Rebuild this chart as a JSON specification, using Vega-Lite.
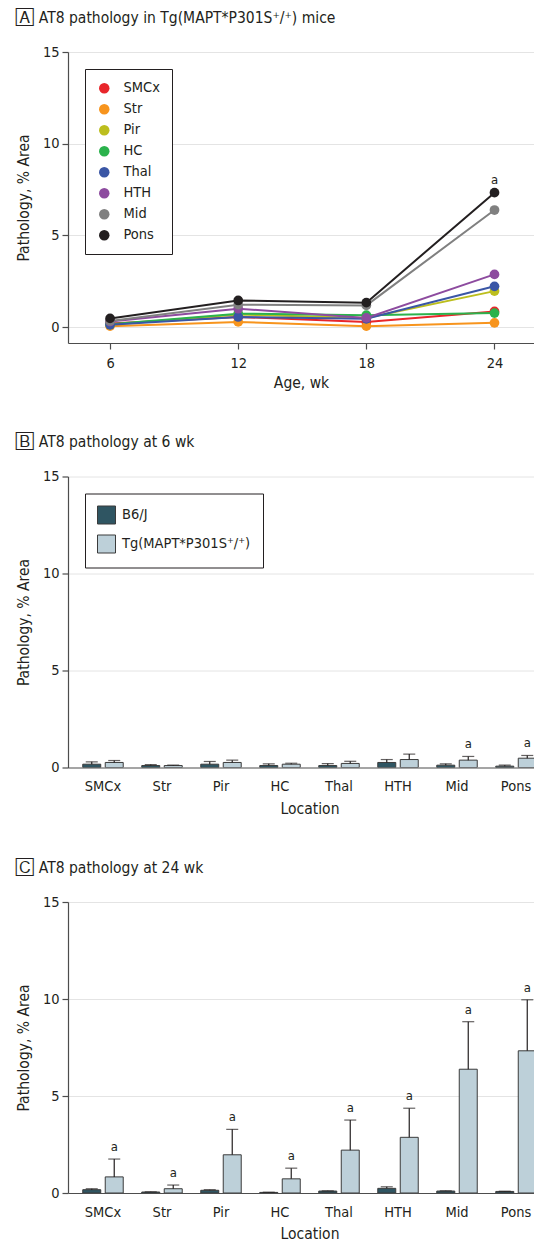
{
  "$schema": "https://vega.github.io/schema/vega-lite/v6.json",
  "padding": {"left": 16, "top": 10, "right": 0, "bottom": 0},
  "spacing": 43.5,
  "datasets": {
    "lines": [
      {"age": 6, "region": "SMCx", "value": 0.2, "sig": ""},
      {"age": 12, "region": "SMCx", "value": 0.55, "sig": ""},
      {"age": 18, "region": "SMCx", "value": 0.27, "sig": ""},
      {"age": 24, "region": "SMCx", "value": 0.85, "sig": ""},
      {"age": 6, "region": "Str", "value": 0.05, "sig": ""},
      {"age": 12, "region": "Str", "value": 0.28, "sig": ""},
      {"age": 18, "region": "Str", "value": 0.05, "sig": ""},
      {"age": 24, "region": "Str", "value": 0.23, "sig": ""},
      {"age": 6, "region": "Pir", "value": 0.12, "sig": ""},
      {"age": 12, "region": "Pir", "value": 0.68, "sig": ""},
      {"age": 18, "region": "Pir", "value": 0.5, "sig": ""},
      {"age": 24, "region": "Pir", "value": 1.96, "sig": ""},
      {"age": 6, "region": "HC", "value": 0.15, "sig": ""},
      {"age": 12, "region": "HC", "value": 0.73, "sig": ""},
      {"age": 18, "region": "HC", "value": 0.65, "sig": ""},
      {"age": 24, "region": "HC", "value": 0.76, "sig": ""},
      {"age": 6, "region": "Thal", "value": 0.12, "sig": ""},
      {"age": 12, "region": "Thal", "value": 0.55, "sig": ""},
      {"age": 18, "region": "Thal", "value": 0.45, "sig": ""},
      {"age": 24, "region": "Thal", "value": 2.22, "sig": ""},
      {"age": 6, "region": "HTH", "value": 0.3, "sig": ""},
      {"age": 12, "region": "HTH", "value": 1.0, "sig": ""},
      {"age": 18, "region": "HTH", "value": 0.5, "sig": ""},
      {"age": 24, "region": "HTH", "value": 2.87, "sig": ""},
      {"age": 6, "region": "Mid", "value": 0.33, "sig": ""},
      {"age": 12, "region": "Mid", "value": 1.22, "sig": ""},
      {"age": 18, "region": "Mid", "value": 1.18, "sig": ""},
      {"age": 24, "region": "Mid", "value": 6.38, "sig": ""},
      {"age": 6, "region": "Pons", "value": 0.47, "sig": ""},
      {"age": 12, "region": "Pons", "value": 1.45, "sig": ""},
      {"age": 18, "region": "Pons", "value": 1.33, "sig": ""},
      {"age": 24, "region": "Pons", "value": 7.33, "sig": "a"}
    ],
    "bars6": [
      {"loc": "SMCx", "strain": "B6/J", "mean": 0.17, "upper": 0.29, "sig": ""},
      {"loc": "Str", "strain": "B6/J", "mean": 0.1, "upper": 0.15, "sig": ""},
      {"loc": "Pir", "strain": "B6/J", "mean": 0.17, "upper": 0.31, "sig": ""},
      {"loc": "HC", "strain": "B6/J", "mean": 0.1, "upper": 0.19, "sig": ""},
      {"loc": "Thal", "strain": "B6/J", "mean": 0.1, "upper": 0.2, "sig": ""},
      {"loc": "HTH", "strain": "B6/J", "mean": 0.26, "upper": 0.41, "sig": ""},
      {"loc": "Mid", "strain": "B6/J", "mean": 0.12, "upper": 0.19, "sig": ""},
      {"loc": "Pons", "strain": "B6/J", "mean": 0.07, "upper": 0.12, "sig": ""},
      {"loc": "SMCx", "strain": "Tg(MAPT*P301S⁺/⁺)", "mean": 0.26, "upper": 0.36, "sig": ""},
      {"loc": "Str", "strain": "Tg(MAPT*P301S⁺/⁺)", "mean": 0.1, "upper": 0.13, "sig": ""},
      {"loc": "Pir", "strain": "Tg(MAPT*P301S⁺/⁺)", "mean": 0.26, "upper": 0.38, "sig": ""},
      {"loc": "HC", "strain": "Tg(MAPT*P301S⁺/⁺)", "mean": 0.17, "upper": 0.22, "sig": ""},
      {"loc": "Thal", "strain": "Tg(MAPT*P301S⁺/⁺)", "mean": 0.21, "upper": 0.32, "sig": ""},
      {"loc": "HTH", "strain": "Tg(MAPT*P301S⁺/⁺)", "mean": 0.41, "upper": 0.69, "sig": ""},
      {"loc": "Mid", "strain": "Tg(MAPT*P301S⁺/⁺)", "mean": 0.38, "upper": 0.57, "sig": "a"},
      {"loc": "Pons", "strain": "Tg(MAPT*P301S⁺/⁺)", "mean": 0.48, "upper": 0.62, "sig": "a"}
    ],
    "bars24": [
      {"loc": "SMCx", "strain": "B6/J", "mean": 0.17, "upper": 0.22, "sig": ""},
      {"loc": "Str", "strain": "B6/J", "mean": 0.05, "upper": 0.06, "sig": ""},
      {"loc": "Pir", "strain": "B6/J", "mean": 0.14, "upper": 0.17, "sig": ""},
      {"loc": "HC", "strain": "B6/J", "mean": 0.03, "upper": 0.04, "sig": ""},
      {"loc": "Thal", "strain": "B6/J", "mean": 0.1, "upper": 0.11, "sig": ""},
      {"loc": "HTH", "strain": "B6/J", "mean": 0.24, "upper": 0.32, "sig": ""},
      {"loc": "Mid", "strain": "B6/J", "mean": 0.1, "upper": 0.11, "sig": ""},
      {"loc": "Pons", "strain": "B6/J", "mean": 0.08, "upper": 0.09, "sig": ""},
      {"loc": "SMCx", "strain": "Tg(MAPT*P301S⁺/⁺)", "mean": 0.83, "upper": 1.75, "sig": "a"},
      {"loc": "Str", "strain": "Tg(MAPT*P301S⁺/⁺)", "mean": 0.22, "upper": 0.41, "sig": "a"},
      {"loc": "Pir", "strain": "Tg(MAPT*P301S⁺/⁺)", "mean": 1.97, "upper": 3.28, "sig": "a"},
      {"loc": "HC", "strain": "Tg(MAPT*P301S⁺/⁺)", "mean": 0.73, "upper": 1.28, "sig": "a"},
      {"loc": "Thal", "strain": "Tg(MAPT*P301S⁺/⁺)", "mean": 2.21, "upper": 3.76, "sig": "a"},
      {"loc": "HTH", "strain": "Tg(MAPT*P301S⁺/⁺)", "mean": 2.87, "upper": 4.37, "sig": "a"},
      {"loc": "Mid", "strain": "Tg(MAPT*P301S⁺/⁺)", "mean": 6.38, "upper": 8.83, "sig": "a"},
      {"loc": "Pons", "strain": "Tg(MAPT*P301S⁺/⁺)", "mean": 7.33, "upper": 9.96, "sig": "a"}
    ]
  },
  "vconcat": [
    {
      "width": 466,
      "height": 291,
      "data": {"name": "lines"},
      "title": {"text": "🄰 AT8 pathology in Tg(MAPT*P301S⁺/⁺) mice"},
      "encoding": {
        "x": {"field": "age", "type": "quantitative",
          "scale": {"domain": [4.03, 25.85], "nice": false, "zero": false},
          "axis": {"values": [6, 12, 18, 24], "grid": false, "title": "Age, wk", "tickSize": 6, "labelPadding": 7, "titlePadding": 6}},
        "y": {"field": "value", "type": "quantitative",
          "scale": {"domain": [-0.87, 15], "nice": false, "zero": false},
          "axis": {"values": [0, 5, 10, 15], "grid": true, "title": "Pathology, % Area", "tickSize": 6, "labelPadding": 3, "titlePadding": 11}}
      },
      "layer": [
        {"mark": {"type": "line", "strokeWidth": 2},
          "encoding": {"stroke": {"field": "region", "type": "nominal", "legend": null,
            "scale": {"domain": ["SMCx", "Str", "Pir", "HC", "Thal", "HTH", "Mid", "Pons"],
              "range": ["#e8262b", "#f7941d", "#bcbe1e", "#2bb24c", "#3a56a5", "#8d4b9f", "#808080", "#231f20"]}}}},
        {"mark": {"type": "point", "filled": true, "size": 95, "opacity": 1},
          "encoding": {"color": {"field": "region", "type": "nominal",
            "sort": ["SMCx", "Str", "Pir", "HC", "Thal", "HTH", "Mid", "Pons"],
            "scale": {"domain": ["SMCx", "Str", "Pir", "HC", "Thal", "HTH", "Mid", "Pons"],
              "range": ["#e8262b", "#f7941d", "#bcbe1e", "#2bb24c", "#3a56a5", "#8d4b9f", "#808080", "#231f20"]},
            "legend": {"title": null, "orient": "top-left", "offset": 17, "symbolType": "circle", "symbolSize": 110,
              "strokeColor": "#231f20", "padding": 12, "rowPadding": 6, "labelOffset": 12, "labelFontSize": 14.5, "symbolStrokeWidth": 0, "fillColor": "white"}}}},
        {"mark": {"type": "text", "dy": -13, "fontSize": 13, "color": "#231f20"},
          "encoding": {"text": {"field": "sig"}}}
      ]
    },
    {
      "width": 466,
      "height": 291,
      "data": {"name": "bars6"},
      "title": {"text": "🄱 AT8 pathology at 6 wk"},
      "encoding": {
        "x": {"field": "loc", "type": "nominal", "sort": ["SMCx", "Str", "Pir", "HC", "Thal", "HTH", "Mid", "Pons"],
          "scale": {"paddingInner": 0.314, "paddingOuter": 0.25, "range": [0, 483]},
          "axis": {"title": "Location", "labelAngle": 0, "ticks": false, "domain": false, "tickSize": 0, "labelPadding": 12, "titlePadding": 8}},
        "xOffset": {"field": "strain", "type": "nominal", "sort": ["B6/J", "Tg(MAPT*P301S⁺/⁺)"], "scale": {"paddingInner": 0.2, "paddingOuter": 0}}
      },
      "layer": [
        {"mark": {"type": "bar", "stroke": "#3b3b3b", "strokeWidth": 1, "clip": true},
          "encoding": {
            "y": {"field": "mean", "type": "quantitative", "scale": {"domain": [0, 15], "nice": false},
              "axis": {"values": [0, 5, 10, 15], "grid": true, "title": "Pathology, % Area", "tickSize": 6, "labelPadding": 3, "titlePadding": 11,
                "gridColor": {"condition": {"test": "datum.value === 0", "value": "#4d4d4d"}, "value": "#e4e4e4"},
                "gridWidth": {"condition": {"test": "datum.value === 0", "value": 1.2}, "value": 1}}},
            "color": {"field": "strain", "type": "nominal", "sort": ["B6/J", "Tg(MAPT*P301S⁺/⁺)"],
              "scale": {"domain": ["B6/J", "Tg(MAPT*P301S⁺/⁺)"], "range": ["#2f5562", "#bdd0d9"]},
              "legend": {"title": null, "orient": "top-left", "offset": 17, "symbolType": "square", "symbolSize": 324,
                "symbolStrokeColor": "#3b3b3b", "symbolStrokeWidth": 1, "strokeColor": "#231f20", "padding": 12, "rowPadding": 6,
                "labelOffset": 6, "labelFontSize": 14.5, "fillColor": "white"}}}},
        {"mark": {"type": "rule", "color": "#231f20", "strokeWidth": 1.2, "clip": true},
          "encoding": {"y": {"field": "mean", "type": "quantitative"}, "y2": {"field": "upper"}}},
        {"mark": {"type": "tick", "color": "#231f20", "thickness": 1.2, "size": 12, "clip": true},
          "encoding": {"y": {"field": "upper", "type": "quantitative"}}},
        {"mark": {"type": "text", "dy": -12, "fontSize": 13, "color": "#231f20", "clip": true},
          "encoding": {"y": {"field": "upper", "type": "quantitative"}, "text": {"field": "sig"}}}
      ]
    },
    {
      "width": 466,
      "height": 291,
      "data": {"name": "bars24"},
      "title": {"text": "🄲 AT8 pathology at 24 wk"},
      "encoding": {
        "x": {"field": "loc", "type": "nominal", "sort": ["SMCx", "Str", "Pir", "HC", "Thal", "HTH", "Mid", "Pons"],
          "scale": {"paddingInner": 0.314, "paddingOuter": 0.25, "range": [0, 483]},
          "axis": {"title": "Location", "labelAngle": 0, "ticks": false, "domain": false, "tickSize": 0, "labelPadding": 12, "titlePadding": 8}},
        "xOffset": {"field": "strain", "type": "nominal", "sort": ["B6/J", "Tg(MAPT*P301S⁺/⁺)"], "scale": {"paddingInner": 0.2, "paddingOuter": 0}}
      },
      "layer": [
        {"mark": {"type": "bar", "stroke": "#3b3b3b", "strokeWidth": 1, "clip": true},
          "encoding": {
            "y": {"field": "mean", "type": "quantitative", "scale": {"domain": [0, 15], "nice": false},
              "axis": {"values": [0, 5, 10, 15], "grid": true, "title": "Pathology, % Area", "tickSize": 6, "labelPadding": 3, "titlePadding": 11,
                "gridColor": {"condition": {"test": "datum.value === 0", "value": "#4d4d4d"}, "value": "#e4e4e4"},
                "gridWidth": {"condition": {"test": "datum.value === 0", "value": 1.2}, "value": 1}}},
            "color": {"field": "strain", "type": "nominal", "sort": ["B6/J", "Tg(MAPT*P301S⁺/⁺)"],
              "scale": {"domain": ["B6/J", "Tg(MAPT*P301S⁺/⁺)"], "range": ["#2f5562", "#bdd0d9"]},
              "legend": null}}},
        {"mark": {"type": "rule", "color": "#231f20", "strokeWidth": 1.2, "clip": true},
          "encoding": {"y": {"field": "mean", "type": "quantitative"}, "y2": {"field": "upper"}}},
        {"mark": {"type": "tick", "color": "#231f20", "thickness": 1.2, "size": 12, "clip": true},
          "encoding": {"y": {"field": "upper", "type": "quantitative"}}},
        {"mark": {"type": "text", "dy": -12, "fontSize": 13, "color": "#231f20", "clip": true},
          "encoding": {"y": {"field": "upper", "type": "quantitative"}, "text": {"field": "sig"}}}
      ]
    }
  ],
  "resolve": {"scale": {"color": "independent"}, "legend": {"color": "independent"}},
  "config": {
    "font": "DejaVu Sans Condensed",
    "view": {"stroke": null},
    "background": "white",
    "title": {"anchor": "start", "frame": "bounds", "fontSize": 15.5, "fontWeight": "normal", "color": "#231f20", "offset": 18},
    "axis": {"labelFontSize": 14.5, "titleFontSize": 15.5, "titleFontWeight": "normal", "labelColor": "#231f20", "titleColor": "#231f20",
      "domainColor": "#4d4d4d", "tickColor": "#4d4d4d", "gridColor": "#e4e4e4", "domainWidth": 1.2, "tickWidth": 1.2},
    "legend": {"labelColor": "#231f20", "labelFont": "DejaVu Sans Condensed"}
  }
}
